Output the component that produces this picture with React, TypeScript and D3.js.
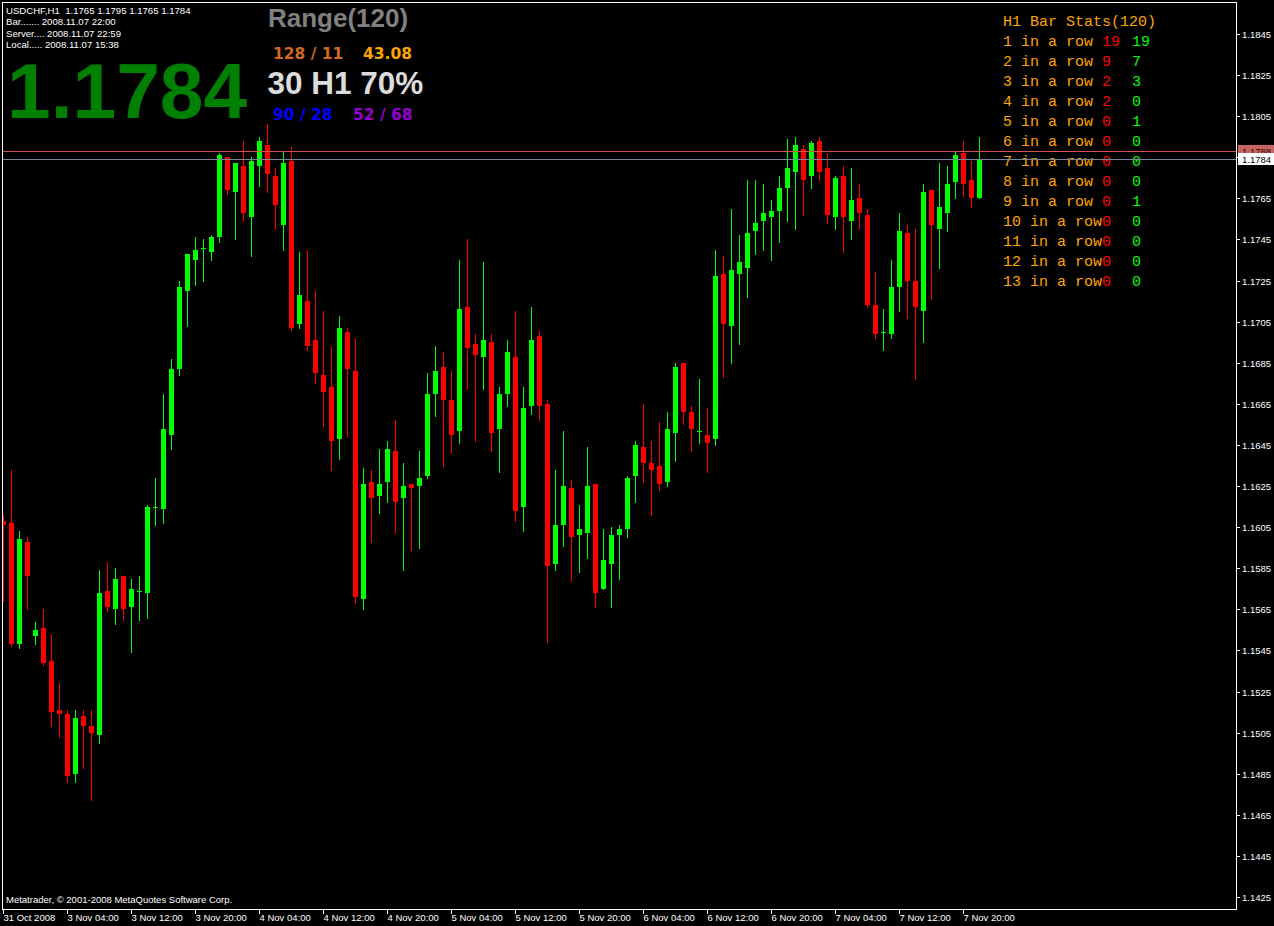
import React from 'react';
import * as d3 from 'd3';

// ---- DATA (USDCHF H1, 31 Oct 2008 20:00 .. 7 Nov 2008 22:00) ----
const opens = [
  1.1608, 1.1607, 1.1548, 1.1598, 1.1552, 1.1556, 1.1540, 1.1516, 1.1514, 1.1485,
  1.1513, 1.1508, 1.1504, 1.1574, 1.1565, 1.1581, 1.1566, 1.1574, 1.1573, 1.1615,
  1.1614, 1.1650, 1.1682, 1.1720, 1.1735, 1.1741, 1.1739, 1.1746, 1.1785, 1.1768,
  1.1781, 1.1756, 1.1781, 1.1791, 1.1776, 1.1752, 1.1783, 1.1704, 1.1715, 1.1696,
  1.1679, 1.1673, 1.1648, 1.1700, 1.1681, 1.1570, 1.1627, 1.1620, 1.1627, 1.1642,
  1.1619, 1.1626, 1.1625, 1.1630, 1.1670, 1.1683, 1.1667, 1.1652, 1.1712, 1.1694,
  1.1688, 1.1695, 1.1653, 1.1670, 1.1688, 1.1615, 1.1664, 1.1698, 1.1665, 1.1587,
  1.1606, 1.1624, 1.1601, 1.1602, 1.1626, 1.1575, 1.1587, 1.1601, 1.1604, 1.1630,
  1.1644, 1.1636, 1.1635, 1.1627, 1.1651, 1.1685, 1.1661, 1.1652, 1.1650, 1.1648,
  1.1728, 1.1703, 1.1728, 1.1731, 1.1749, 1.1754, 1.1756, 1.1759, 1.1770, 1.1778,
  1.1789, 1.1776, 1.1793, 1.1780, 1.1756, 1.1776, 1.1754, 1.1765, 1.1757, 1.1713,
  1.1700, 1.1699, 1.1722, 1.1748, 1.1725, 1.1710, 1.1769, 1.1750, 1.1758, 1.1773,
  1.1787, 1.1774, 1.1765,
];
const highs = [
  1.1611, 1.1633, 1.1603, 1.1600, 1.1559, 1.1565, 1.1553, 1.1529, 1.1516, 1.1516,
  1.1516, 1.1516, 1.1584, 1.1588, 1.1585, 1.1581, 1.1580, 1.1581, 1.1616, 1.1629,
  1.1670, 1.1687, 1.1725, 1.1738, 1.1746, 1.1745, 1.1747, 1.1787, 1.1785, 1.1782,
  1.1793, 1.1785, 1.1795, 1.1801, 1.1780, 1.1788, 1.1790, 1.1739, 1.1740, 1.1720,
  1.1710, 1.1693, 1.1708, 1.1702, 1.1697, 1.1634, 1.1633, 1.1643, 1.1647, 1.1657,
  1.1636, 1.1626, 1.1642, 1.1680, 1.1693, 1.1690, 1.1681, 1.1735, 1.1745, 1.1699,
  1.1734, 1.1699, 1.1673, 1.1696, 1.1710, 1.1673, 1.1712, 1.1701, 1.1667, 1.1633,
  1.1652, 1.1628, 1.1616, 1.1644, 1.1626, 1.1604, 1.1605, 1.1606, 1.1630, 1.1647,
  1.1665, 1.1647, 1.1656, 1.1661, 1.1685, 1.1685, 1.1664, 1.1677, 1.1663, 1.1740,
  1.1737, 1.1760, 1.1747, 1.1774, 1.1774, 1.1772, 1.1764, 1.1776, 1.1794, 1.1795,
  1.1791, 1.1793, 1.1795, 1.1787, 1.1776, 1.1781, 1.1780, 1.1772, 1.1760, 1.1729,
  1.1711, 1.1735, 1.1758, 1.1752, 1.1750, 1.1772, 1.1769, 1.1782, 1.1781, 1.1788,
  1.1793, 1.1783, 1.1795,
];
const lows = [
  1.1569, 1.1547, 1.1546, 1.1565, 1.1548, 1.1538, 1.1508, 1.1503, 1.1481, 1.1481,
  1.1488, 1.1472, 1.1500, 1.1564, 1.1558, 1.1560, 1.1544, 1.1560, 1.1561, 1.1606,
  1.1607, 1.1643, 1.1679, 1.1703, 1.1723, 1.1725, 1.1735, 1.1744, 1.1767, 1.1745,
  1.1754, 1.1737, 1.1771, 1.1768, 1.1750, 1.1740, 1.1701, 1.1702, 1.1691, 1.1675,
  1.1654, 1.1633, 1.1638, 1.1649, 1.1568, 1.1565, 1.1598, 1.1612, 1.1617, 1.1602,
  1.1584, 1.1594, 1.1595, 1.1629, 1.1659, 1.1635, 1.1641, 1.1646, 1.1672, 1.1647,
  1.1672, 1.1642, 1.1632, 1.1664, 1.1608, 1.1603, 1.1660, 1.1657, 1.1549, 1.1584,
  1.1596, 1.1579, 1.1583, 1.1590, 1.1566, 1.1575, 1.1566, 1.1580, 1.1600, 1.1617,
  1.1627, 1.1611, 1.1623, 1.1625, 1.1637, 1.1655, 1.1642, 1.1646, 1.1632, 1.1645,
  1.1678, 1.1685, 1.1694, 1.1717, 1.1738, 1.1740, 1.1735, 1.1744, 1.1754, 1.1750,
  1.1757, 1.1770, 1.1774, 1.1753, 1.1750, 1.1739, 1.1745, 1.1750, 1.1712, 1.1697,
  1.1691, 1.1697, 1.1710, 1.1707, 1.1677, 1.1695, 1.1716, 1.1731, 1.1749, 1.1765,
  1.1766, 1.1761, 1.1765,
];
const closes = [
  1.1606, 1.1548, 1.1599, 1.1581, 1.1555, 1.1539, 1.1515, 1.1514, 1.1484, 1.1512,
  1.1508, 1.1505, 1.1573, 1.1566, 1.1580, 1.1565, 1.1575, 1.1574, 1.1615, 1.1615,
  1.1653, 1.1682, 1.1722, 1.1738, 1.1740, 1.1741, 1.1746, 1.1786, 1.1769, 1.1782,
  1.1758, 1.1783, 1.1793, 1.1777, 1.1762, 1.1782, 1.1702, 1.1718, 1.1693, 1.1680,
  1.1671, 1.1647, 1.1702, 1.1682, 1.1571, 1.1626, 1.1619, 1.1626, 1.1643, 1.1617,
  1.1625, 1.1624, 1.1629, 1.1670, 1.1681, 1.1667, 1.1650, 1.1711, 1.1692, 1.1689,
  1.1696, 1.1651, 1.1670, 1.1690, 1.1613, 1.1663, 1.1696, 1.1664, 1.1586, 1.1606,
  1.1625, 1.1600, 1.1604, 1.1625, 1.1573, 1.1589, 1.1601, 1.1604, 1.1629, 1.1645,
  1.1636, 1.1633, 1.1626, 1.1653, 1.1683, 1.1661, 1.1653, 1.1652, 1.1646, 1.1727,
  1.1704, 1.1730, 1.1734, 1.1748, 1.1753, 1.1758, 1.1759, 1.1770, 1.1780, 1.1791,
  1.1774, 1.1792, 1.1778, 1.1757, 1.1775, 1.1756, 1.1764, 1.1758, 1.1713, 1.1699,
  1.1700, 1.1722, 1.1749, 1.1725, 1.1712, 1.1768, 1.1752, 1.1761, 1.1772, 1.1786,
  1.1772, 1.1765, 1.1784,
];

const timeTickLabels = [
  '31 Oct 2008', '3 Nov 04:00', '3 Nov 12:00', '3 Nov 20:00', '4 Nov 04:00',
  '4 Nov 12:00', '4 Nov 20:00', '5 Nov 04:00', '5 Nov 12:00', '5 Nov 20:00',
  '6 Nov 04:00', '6 Nov 12:00', '6 Nov 20:00', '7 Nov 04:00', '7 Nov 12:00',
  '7 Nov 20:00',
];
const barsPerTimeTick = 8;

const priceTickLabels = [
  '1.1845', '1.1825', '1.1805', '1.1785', '1.1765', '1.1745', '1.1725', '1.1705',
  '1.1685', '1.1665', '1.1645', '1.1625', '1.1605', '1.1585', '1.1565', '1.1545',
  '1.1525', '1.1505', '1.1485', '1.1465', '1.1445', '1.1425',
];

const askPrice = 1.1788;
const bidPrice = 1.1784;

const infoLines = [
  'USDCHF,H1  1.1765 1.1795 1.1765 1.1784',
  'Bar....... 2008.11.07 22:00',
  'Server.... 2008.11.07 22:59',
  'Local..... 2008.11.07 15:38',
];
const bigPrice = '1.1784';

const rangeTitle = 'Range(120)';
const rangeUpDown = '128 / 11';
const rangeAvg = '43.08';
const rangeMain = '30 H1 70%';
const rangeBlue = '90 / 28';
const rangePurple = '52 / 68';

const statsTitle = 'H1 Bar Stats(120)';
const statsRowLabels = [
  '1 in a row', '2 in a row', '3 in a row', '4 in a row', '5 in a row', '6 in a row',
  '7 in a row', '8 in a row', '9 in a row', '10 in a row', '11 in a row', '12 in a row',
  '13 in a row',
];
const statsBear = [19, 9, 2, 2, 0, 0, 0, 0, 0, 0, 0, 0, 0];
const statsBull = [19, 7, 3, 0, 1, 0, 0, 0, 1, 0, 0, 0, 0];

const copyright = 'Metatrader, \u00A9 2001-2008 MetaQuotes Software Corp.';

// ---- LAYOUT ----
const W = 1274;
const H = 926;
const plotLeft = 2;
const plotRight = 1236;
const plotTop = 2;
const plotBottom = 909;

const BULL = '#00ff00';
const BEAR = '#ff0000';
const sans = "'Liberation Sans', Arial, sans-serif";
const mono = "'Liberation Mono', 'Courier New', monospace";

export default function App() {
  const n = closes.length;
  const x = d3.scaleLinear().domain([0, n - 1]).range([3.5, 3.5 + 8 * (n - 1)]);
  const y = d3.scaleLinear().domain([1.1425, 1.1845]).range([897, 34]);
  const ry = (v: number) => Math.round(y(v));

  const candles = d3.range(n).map((i) => {
    const o = opens[i], h = highs[i], l = lows[i], c = closes[i];
    const bull = c >= o;
    const cx = Math.floor(x(i)) + 0.5;
    const top = ry(Math.max(o, c));
    const bot = ry(Math.min(o, c));
    return { i, cx, bull, yh: ry(h), yl: ry(l), top, hgt: Math.max(1, bot - top) };
  });

  const priceTicks = priceTickLabels.map((s) => ({ s, v: +s }));
  const timeTicks = timeTickLabels.map((s, k) => ({ s, cx: Math.floor(x(k * barsPerTimeTick)) + 0.5 }));

  const askY = ry(askPrice) + 0.5;
  const bidY = ry(bidPrice) + 0.5;

  return (
    <svg
      width={W}
      height={H}
      viewBox={`0 0 ${W} ${H}`}
      style={{ position: 'absolute', left: 0, top: 0, display: 'block', background: '#000' }}
    >
      <defs>
        <clipPath id="plotClip">
          <rect x={plotLeft + 1} y={plotTop + 1} width={plotRight - plotLeft - 1} height={plotBottom - plotTop - 1} />
        </clipPath>
      </defs>
      <rect x={0} y={0} width={W} height={H} fill="#000" />

      {/* info texts top-left */}
      <g fontFamily={sans} fontSize={9.6} fill="#fff" style={{ whiteSpace: 'pre' }}>
        {infoLines.map((t, k) => (
          <text key={k} x={6} y={[14, 25, 36.5, 48][k]} xmlSpace="preserve">{t}</text>
        ))}
      </g>
      <text x={7} y={118} fontFamily={sans} fontWeight="bold" fontSize={78.5} fill="#008000">{bigPrice}</text>

      {/* range panel */}
      <text x={268} y={27} fontFamily={sans} fontWeight="bold" fontSize={26} fill="#808080">{rangeTitle}</text>
      <g fontFamily="'DejaVu Sans', Verdana, sans-serif" fontWeight="bold" fontSize={15.5} style={{ whiteSpace: 'pre' }}>
        <text x={273} y={59} fill="#d2691e" xmlSpace="preserve">{rangeUpDown}</text>
        <text x={363} y={59} fill="#ffa500">{rangeAvg}</text>
        <text x={273} y={120} fill="#0000ff" xmlSpace="preserve">{rangeBlue}</text>
        <text x={353} y={120} fill="#9400d3" xmlSpace="preserve">{rangePurple}</text>
      </g>
      <text x={267.5} y={93.5} fontFamily={sans} fontWeight="bold" fontSize={31.5} fill="#dcdcdc" style={{ whiteSpace: 'pre' }}>{rangeMain}</text>

      {/* bar stats panel */}
      <g fontFamily={mono} fontSize={15} style={{ whiteSpace: 'pre' }}>
        <text x={1003} y={26} fill="#ffa500">{statsTitle}</text>
        {statsRowLabels.map((t, k) => (
          <g key={k}>
            <text x={1003} y={46 + 20 * k} fill="#ffa500" xmlSpace="preserve">{t}</text>
            <text x={1102} y={46 + 20 * k} fill="#ff0000">{statsBear[k]}</text>
            <text x={1132} y={46 + 20 * k} fill="#00ff00">{statsBull[k]}</text>
          </g>
        ))}
      </g>

      {/* candles */}
      <g clipPath="url(#plotClip)" shapeRendering="crispEdges">
        {candles.map((c) => (
          <g key={c.i} fill={c.bull ? BULL : BEAR} stroke="none">
            <rect x={c.cx - 0.5} y={c.yh} width={1} height={Math.max(1, c.yl - c.yh + 1)} />
            <rect x={c.cx - 2.5} y={c.top} width={5} height={c.hgt} />
          </g>
        ))}
        <rect x={plotLeft} y={askY - 0.5} width={plotRight - plotLeft} height={1} fill="#d85050" />
        <rect x={plotLeft} y={bidY - 0.5} width={plotRight - plotLeft} height={1} fill="#778899" />
      </g>

      {/* frame */}
      <rect
        x={plotLeft + 0.5}
        y={plotTop + 0.5}
        width={plotRight - plotLeft}
        height={plotBottom - plotTop}
        fill="none"
        stroke="#fff"
        strokeWidth={1}
        shapeRendering="crispEdges"
      />

      {/* price axis */}
      <g fontFamily={sans} fontSize={9.5} fill="#fff" shapeRendering="crispEdges">
        {priceTicks.map((t) => {
          const ty = ry(t.v) + 0.5;
          return (
            <g key={t.s}>
              <line x1={plotRight + 1} x2={plotRight + 4} y1={ty} y2={ty} stroke="#fff" />
              <text x={1242} y={ty} dy="0.35em">{t.s}</text>
            </g>
          );
        })}
      </g>

      {/* ask / bid labels */}
      <g fontFamily={sans} fontSize={9.5}>
        <rect x={1238} y={askY - 6.5} width={36} height={12} fill="#c86464" />
        <text x={1242} y={askY} dy="0.35em" fill="#400000">{askPrice.toFixed(4)}</text>
        <rect x={1238} y={bidY - 6.5} width={36} height={12} fill="#ffffff" />
        <text x={1242} y={bidY} dy="0.35em" fill="#000">{bidPrice.toFixed(4)}</text>
      </g>

      {/* time axis */}
      <g fontFamily={sans} fontSize={9.5} fill="#fff" shapeRendering="crispEdges">
        {timeTicks.map((t) => (
          <g key={t.s}>
            <line x1={t.cx} x2={t.cx} y1={plotBottom + 1} y2={plotBottom + 5} stroke="#fff" />
            <text x={t.cx} y={921}>{t.s}</text>
          </g>
        ))}
      </g>

      <text x={6} y={903} fontFamily={sans} fontSize={9.5} fill="#fff">{copyright}</text>
    </svg>
  );
}
